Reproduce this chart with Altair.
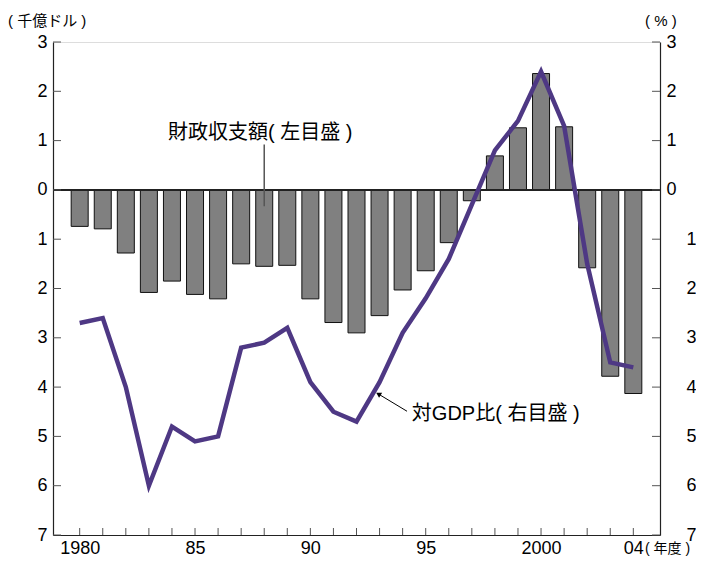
import altair as alt
import pandas as pd

# ---- data ----
years = list(range(1980, 2005))
balance = [-0.74, -0.79, -1.28, -2.08, -1.85, -2.12, -2.21, -1.50, -1.55, -1.53,
           -2.21, -2.69, -2.90, -2.55, -2.03, -1.64, -1.07, -0.22, 0.69, 1.26,
           2.36, 1.28, -1.58, -3.78, -4.13]
gdp_ratio = [-2.7, -2.6, -4.0, -6.0, -4.8, -5.1, -5.0, -3.2, -3.1, -2.8,
             -3.9, -4.5, -4.7, -3.9, -2.9, -2.2, -1.4, -0.3, 0.8, 1.4,
             2.4, 1.3, -1.5, -3.5, -3.6]
y_ticks = list(range(-7, 4))
x_label_years = [1980, 1985, 1990, 1995, 2000, 2004]
x_label_text = ["1980", "85", "90", "95", "2000", "04"]

left_unit = "( 千億ドル )"
right_unit = "( % )"
x_unit = "( 年度 )"
bar_note = "財政収支額( 左目盛 )"
line_note = "対GDP比( 右目盛 )"

W, H = 607, 493
XDOM = [1979.06, 2004.94]
YDOM = [-7, 3]
FONT = "Liberation Sans"
JFONT = "Liberation Sans, Noto Sans CJK JP"
PURPLE = "#4E3884"

df = pd.DataFrame({"year": years, "balance": balance, "ratio": gdp_ratio})
df["base"] = 0.0
ticks_df = pd.DataFrame({"v": y_ticks})
years_df = pd.DataFrame({"year": years})

xs = alt.Scale(domain=XDOM, nice=False, zero=False)
ys = alt.Scale(domain=YDOM, nice=False, zero=False)

label_expr = " : ".join(
    f"datum.value == {y} ? '{t}'" for y, t in zip(x_label_years, x_label_text)
) + " : ''"

x_axis = alt.Axis(
    values=x_label_years, labelExpr=label_expr, title=None, grid=False,
    ticks=False, tickSize=0, labelPadding=4,
    labelFont=FONT, labelFontSize=18, labelColor="#000",
    domainColor="#222", domainWidth=1.2)

yl_axis = alt.Axis(
    values=y_ticks, labelExpr="'' + abs(datum.value)", title=None, grid=False,
    ticks=False, tickSize=0, labelPadding=6, labelFont=FONT, labelFontSize=18,
    labelColor="#000", domainColor="#222", domainWidth=1.2)

yr_axis = alt.Axis(
    orient="right", values=y_ticks,
    labelExpr="'' + abs(datum.value)",
    title=None, grid=False, ticks=False, tickSize=0,
    labelPadding={"condition": {"test": "datum.value < 0", "value": 26}, "value": 6},
    labelFont=FONT, labelFontSize=18, labelColor="#000", labelAlign="left",
    domainColor="#222", domainWidth=1.2)


def X(field):
    return alt.X(field, scale=xs, axis=x_axis)


def Y(field):
    return alt.Y(field, scale=ys, axis=yl_axis)


bars = alt.Chart(df).mark_bar(size=17, color="#808080", stroke="#111111", strokeWidth=1).encode(
    x=X("year:Q"), y=Y("balance:Q"), y2="base:Q",
)

zero_rule = alt.Chart(df).mark_rule(color="#222", strokeWidth=1).encode(y=Y("base:Q"))

left_ticks = alt.Chart(ticks_df).mark_rule(color="#555", strokeWidth=1).encode(
    y=Y("v:Q"), x=alt.value(0), x2=alt.value(8)
)
right_ticks = alt.Chart(ticks_df).mark_rule(color="#555", strokeWidth=1).encode(
    y=Y("v:Q"), x=alt.value(W - 8), x2=alt.value(W)
)
bottom_ticks = alt.Chart(years_df).mark_rule(color="#555", strokeWidth=1).encode(
    x=X("year:Q"), y=alt.value(H), y2=alt.value(H - 7)
)

leader_df = pd.DataFrame({"x": [1988], "y1": [0.92], "y2": [-0.33]})
leader = alt.Chart(leader_df).mark_rule(color="#555", strokeWidth=1.5).encode(
    x=X("x:Q"), y=Y("y1:Q"), y2="y2:Q"
)

note_df = pd.DataFrame({
    "x": [1983.83, 1994.4], "y": [1.16, -4.54], "t": [bar_note, line_note]
})
notes = alt.Chart(note_df).mark_text(
    align="left", baseline="middle", font=JFONT, fontSize=20, color="#000"
).encode(x=X("x:Q"), y=Y("y:Q"), text="t:N")

arrow_df = pd.DataFrame({"x1": [1994.19], "y1": [-4.49], "x2": [1992.95], "y2": [-4.14]})
arrow_line = alt.Chart(arrow_df).mark_rule(color="#000", strokeWidth=1).encode(
    x=X("x1:Q"), y=Y("y1:Q"), x2="x2:Q", y2="y2:Q"
)
arrow_head = alt.Chart(arrow_df).mark_point(
    shape="triangle-up", filled=True, color="#000", size=35, angle=301, opacity=1
).encode(x=X("x2:Q"), y=Y("y2:Q"))

hdr_left = alt.Chart(pd.DataFrame({"t": [left_unit]})).mark_text(
    align="left", baseline="middle", font=JFONT, fontSize=15, color="#000"
).encode(x=alt.value(-45), y=alt.value(-21), text="t:N")
hdr_right = alt.Chart(pd.DataFrame({"t": [right_unit]})).mark_text(
    align="left", baseline="middle", font=JFONT, fontSize=15, color="#000"
).encode(x=alt.value(592), y=alt.value(-21), text="t:N")
hdr_x = alt.Chart(pd.DataFrame({"t": [x_unit]})).mark_text(
    align="left", baseline="alphabetic", font=JFONT, fontSize=14, color="#000"
).encode(x=alt.value(592), y=alt.value(H + 18), text="t:N")

left_group = alt.layer(
    bars, zero_rule, left_ticks, right_ticks, bottom_ticks, leader,
    notes, arrow_line, arrow_head, hdr_left, hdr_right, hdr_x
)

line = alt.Chart(df).mark_line(color=PURPLE, strokeWidth=4.5, strokeJoin="miter").encode(
    x=X("year:Q"),
    y=alt.Y("ratio:Q", scale=ys, axis=yr_axis),
)

chart = alt.layer(left_group, line).resolve_scale(y="independent").properties(
    width=W, height=H,
    autosize=alt.AutoSizeParams(type="none"),
    padding={"left": 45, "top": 34, "right": 36, "bottom": 21},
).configure_view(stroke=None).configure(background="white")

chart.save("out.html", embed_options={"renderer": "svg", "actions": False})
